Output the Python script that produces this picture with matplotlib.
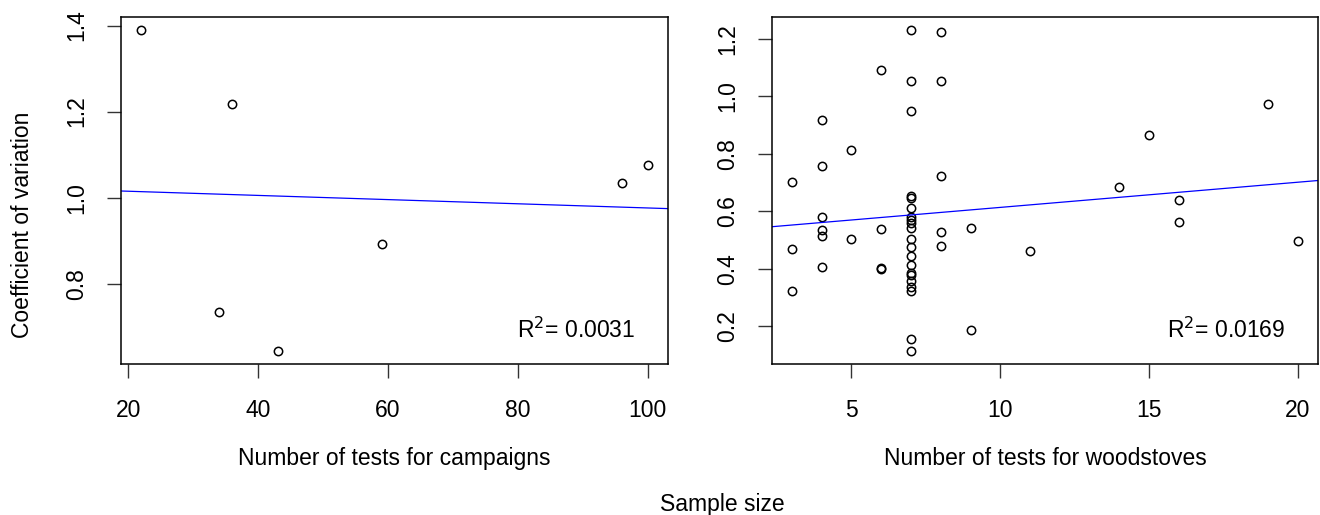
import matplotlib
matplotlib.use("Agg")
import matplotlib.pyplot as plt
import numpy as np

plt.rcParams["font.family"] = ["Liberation Sans", "DejaVu Sans"]

# campaigns
camp_n = [22, 36, 34, 43, 59, 96, 100]
camp_cv = [1.390, 1.217, 0.733, 0.643, 0.891, 1.033, 1.075]
camp_r2 = "0.0031"

# woodstoves
wood_n = [3, 3, 3,
          4, 4, 4, 4, 4, 4,
          5, 5,
          6, 6, 6, 6,
          7, 7, 7, 7, 7, 7, 7, 7, 7, 7, 7, 7, 7, 7, 7, 7, 7, 7, 7, 7, 7,
          8, 8, 8, 8, 8,
          9, 9,
          11, 14, 15, 16, 16, 19, 20]
wood_cv = [0.701, 0.470, 0.321,
           0.919, 0.759, 0.581, 0.534, 0.513, 0.407,
           0.813, 0.504,
           1.093, 0.538, 0.400, 0.402,
           1.232, 1.054, 0.948, 0.655, 0.646, 0.611, 0.581, 0.571, 0.558, 0.541,
           0.504, 0.477, 0.446, 0.414, 0.386, 0.379, 0.356, 0.335, 0.321, 0.156, 0.113,
           1.223, 1.054, 0.722, 0.529, 0.480,
           0.543, 0.185,
           0.461, 0.683, 0.866, 0.640, 0.562, 0.975, 0.495]
wood_r2 = "0.0169"

FS = 16.5
W, H = 1320, 515


def r_lim(v):
    v = np.asarray(v, dtype=float)
    d = (v.max() - v.min()) * 0.04
    return v.min() - d, v.max() + d


def panel(ax, x, y, r2, xlabel, xticks, yticks):
    x = np.asarray(x, dtype=float)
    y = np.asarray(y, dtype=float)
    ax.plot(x, y, "o", ms=6, mfc="none", mec="black", mew=1.1, clip_on=False)
    xl = r_lim(x)
    ax.set_xlim(xl)
    ax.set_ylim(r_lim(y))
    b, a = np.polyfit(x, y, 1)
    xs = np.array(xl)
    ax.plot(xs, a + b * xs, color="blue", lw=0.9)
    ax.set_xticks(xticks)
    ax.set_yticks(yticks)
    ax.set_xticklabels([f"{t:g}" for t in xticks])
    ax.set_yticklabels([f"{t:.1f}" for t in yticks], rotation=90, va="center")
    ax.tick_params(length=10, width=1.0, labelsize=FS, color="#333333")
    ax.tick_params(axis="x", pad=15)
    ax.tick_params(axis="y", pad=13.5)
    for s in ax.spines.values():
        s.set_linewidth(1.1)
    ax.set_xlabel(xlabel, fontsize=FS, labelpad=18.5)
    ax.text(0.94, 0.098, r"R$^2$= " + r2, transform=ax.transAxes, ha="right", va="center",
            fontsize=FS)


fig = plt.figure(figsize=(W / 100, H / 100), dpi=100)
ax1 = fig.add_axes([121 / W, 1 - 364 / H, 547 / W, 347 / H])
ax2 = fig.add_axes([771.7 / W, 1 - 364 / H, 546.6 / W, 347 / H])

panel(ax1, camp_n, camp_cv, camp_r2, "Number of tests for campaigns",
      [20, 40, 60, 80, 100], [0.8, 1.0, 1.2, 1.4])
panel(ax2, wood_n, wood_cv, wood_r2, "Number of tests for woodstoves",
      [5, 10, 15, 20], [0.2, 0.4, 0.6, 0.8, 1.0, 1.2])

fig.text(23 / W, 1 - 225 / H, "Coefficient of variation", rotation=90, ha="center", va="center",
         fontsize=FS)
fig.text(722 / W, 1 - 505 / H, "Sample size", ha="center", va="center", fontsize=FS)

fig.savefig("out.png", dpi=100)
